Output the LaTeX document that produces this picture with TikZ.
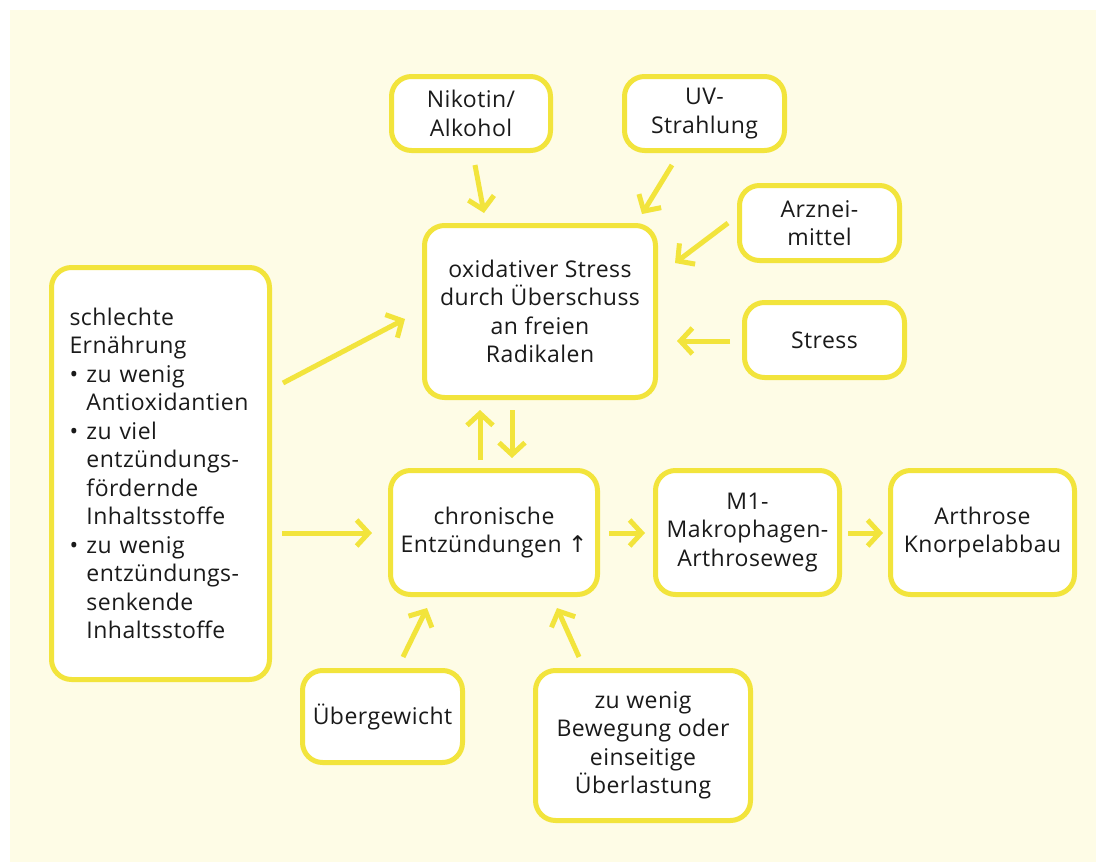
\documentclass[tikz,border=0pt]{standalone}
\usepackage{fontspec}
\setmainfont[LetterSpace=2]{Open Sans}
\newfontfamily\symfont{DejaVu Sans}
\usetikzlibrary{arrows.meta}
\definecolor{cream}{HTML}{FEFCE6}
\definecolor{ylw}{HTML}{F2E43C}
\definecolor{ink}{HTML}{1A1A1A}
\newcommand\mybul{\makebox[17pt][l]{•}}
\newcommand\myind{\hspace*{17pt}}
\tikzset{
 box/.style={draw=ylw, line width=5pt, fill=white, rounded corners=20pt, inner sep=0pt, align=center, text=ink, font=\fontsize{23}{28.5}\selectfont},
 arr/.style={draw=ylw, line width=5pt, -{Straight Barb[length=12pt,width=26pt]}}
}
\begin{document}
\begin{tikzpicture}[x=1pt,y=-1pt]
\useasboundingbox (0,0) rectangle (1096,862);
\fill[cream] (10,10) rectangle (1096,862);
% boxes
\node[box, minimum width=159pt, minimum height=74pt] (nik) at (471,113.5) {Nikotin/\\Alkohol};
\node[box, minimum width=160pt, minimum height=74pt] (uv) at (704.5,113.5) {UV-\\Strahlung};
\node[box, minimum width=160pt, minimum height=75pt] (arz) at (819.5,223) {Arznei-\\mittel};
\node[box, minimum width=160pt, minimum height=75pt] (str) at (824.5,340) {Stress};
\node[box, minimum width=231pt, minimum height=172pt] (oxi) at (540,311.5) {oxidativer Stress\\durch Überschuss\\an freien\\Radikalen};
\node[box, minimum width=218pt, minimum height=412pt, text width=182pt, align=left] (ern) at (160.5,473.5) {schlechte\\Ernährung\\\mybul zu wenig\\\myind Antioxidantien\\\mybul zu viel\\\myind entzündungs-\\\myind fördernde\\\myind Inhaltsstoffe\\\mybul zu wenig\\\myind entzündungs-\\\myind senkende\\\myind Inhaltsstoffe};
\node[box, minimum width=207pt, minimum height=124pt] (chr) at (494,532.5) {chronische\\Entzündungen {\symfont ↑}};
\node[box, minimum width=184pt, minimum height=124pt] (m1) at (747.5,532.5) {M1-\\Makrophagen-\\Arthroseweg};
\node[box, minimum width=184pt, minimum height=124pt] (art) at (982.5,532.5) {Arthrose\\Knorpelabbau};
\node[box, minimum width=160pt, minimum height=92pt] (ueb) at (382.5,716.5) {Übergewicht};
\node[box, minimum width=215pt, minimum height=150pt] (bew) at (643,745.5) {zu wenig\\Bewegung oder\\einseitige\\Überlastung};
% arrow end points
\coordinate (nikS) at (475,165); \coordinate (nikE) at (484,213);
\coordinate (uvS) at (672,165); \coordinate (uvE) at (642,214);
\coordinate (arzS) at (728,223); \coordinate (arzE) at (675,263);
\coordinate (strS) at (730,341); \coordinate (strE) at (677,341);
\coordinate (ernS1) at (283,383); \coordinate (ernE1) at (405,319);
\coordinate (ernS2) at (282,533); \coordinate (ernE2) at (372,533);
\coordinate (upS) at (480,460); \coordinate (upE) at (480,410);
\coordinate (dnS) at (512,410); \coordinate (dnE) at (512,458);
\coordinate (chrS) at (609,533); \coordinate (chrE) at (645,533);
\coordinate (m1S) at (848,533); \coordinate (m1E) at (883,533);
\coordinate (uebS) at (403,657); \coordinate (uebE) at (427,608);
\coordinate (bewS) at (579,657); \coordinate (bewE) at (557,608);
% arrows
\draw[arr] (nikS) -- (nikE);
\draw[arr] (uvS) -- (uvE);
\draw[arr] (arzS) -- (arzE);
\draw[arr] (strS) -- (strE);
\draw[arr] (ernS1) -- (ernE1);
\draw[arr] (ernS2) -- (ernE2);
\draw[arr] (upS) -- (upE);
\draw[arr] (dnS) -- (dnE);
\draw[arr] (chrS) -- (chrE);
\draw[arr] (m1S) -- (m1E);
\draw[arr] (uebS) -- (uebE);
\draw[arr] (bewS) -- (bewE);
\end{tikzpicture}
\end{document}
